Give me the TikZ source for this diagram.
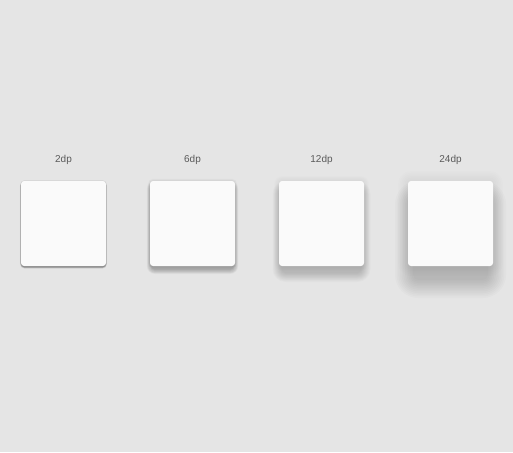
\documentclass[tikz,border=0pt]{standalone}
\usepackage{fontspec}
\setmainfont{Liberation Sans}
\definecolor{bg}{HTML}{E5E5E5}
\definecolor{cardc}{HTML}{FAFAFA}
\definecolor{txt}{HTML}{5A5A5A}
\begin{document}
\begin{tikzpicture}[x=1pt,y=-1pt,
  card/.style={fill=cardc, rounded corners=3pt, minimum width=85pt, minimum height=85pt, inner sep=0pt, outer sep=0pt},
  lbl/.style={text=txt, font=\fontsize{10pt}{12pt}\selectfont, inner sep=0pt}]
\fill[bg] (0,0) rectangle (513,452);
\useasboundingbox (0,0) rectangle (513,452);
% shadow macro: center x, y offset, blur, per-layer opacity
\newcommand\myshadow[4]{%
  \foreach \i in {12,11,...,1}{%
    \pgfmathsetmacro\e{\i*#3/12}%
    \fill[black, opacity=#4, rounded corners=3pt+\e pt]
      ({#1-42.5-\e+0.35*#3},{181+#2-\e+0.4*#3}) rectangle ({#1+42.5+\e-0.35*#3},{266+#2+\e});
  }%
  \foreach \i in {6,5,...,1}{%
    \pgfmathsetmacro\e{\i*#3/12}%
    \fill[black, opacity=#4*0.5, rounded corners=3pt+\e pt]
      ({#1-42.5-\e},{181-\e}) rectangle ({#1+42.5+\e},{266+\e});
  }%
}
\myshadow{63.5}{1}{1.6}{0.035}
\myshadow{192.5}{3}{5}{0.022}
\myshadow{321.5}{6}{10}{0.017}
\myshadow{450.5}{12}{20}{0.014}
\node[card] (c1) at (63.5,223.5) {};
\node[card] (c2) at (192.5,223.5) {};
\node[card] (c3) at (321.5,223.5) {};
\node[card] (c4) at (450.5,223.5) {};
\node[lbl] (l1) at (63.5,159.5) {2dp};
\node[lbl] (l2) at (192.5,159.5) {6dp};
\node[lbl] (l3) at (321.5,159.5) {12dp};
\node[lbl] (l4) at (450.5,159.5) {24dp};
\end{tikzpicture}
\end{document}
